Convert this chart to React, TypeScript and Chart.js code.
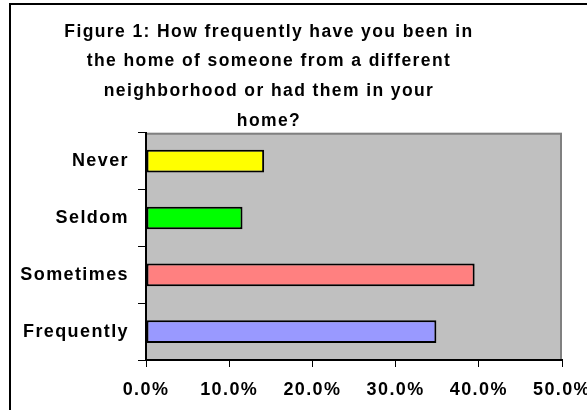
import React, { useEffect, useRef } from "react";
import { Chart, registerables } from "chart.js";

Chart.register(...registerables);

const categories = ["Never", "Seldom", "Sometimes", "Frequently"];
const percentValues = [14.2, 11.6, 39.5, 34.9];
const barColors = ["#FFFF00", "#00FF00", "#FF8080", "#9999FF"];
const titleLines = [
  "Figure 1: How frequently have you been in",
  "the home of someone from a different",
  "neighborhood or had them in your",
  "home?",
];
const axisMin = 0;
const axisMax = 50;
const axisStep = 10;

const FONT = "'Liberation Sans', Arial, sans-serif";

const spacingPlugin = {
  id: "spacing",
  beforeUpdate(chart: any) {
    chart.ctx.letterSpacing = "1.4px";
  },
  beforeDraw(chart: any) {
    chart.ctx.letterSpacing = "1.4px";
  },
};

const framePlugin = {
  id: "frame",
  beforeDraw(chart: any) {
    const { ctx, chartArea, width, height } = chart;
    ctx.save();
    ctx.fillStyle = "#FFFFFF";
    ctx.fillRect(0, 0, width, height);
    ctx.strokeStyle = "#000000";
    ctx.lineWidth = 2;
    ctx.beginPath();
    ctx.moveTo(10, height + 5);
    ctx.lineTo(10, 4);
    ctx.lineTo(width + 5, 4);
    ctx.stroke();
    ctx.fillStyle = "#C0C0C0";
    ctx.fillRect(
      chartArea.left,
      chartArea.top,
      chartArea.right - chartArea.left,
      chartArea.bottom - chartArea.top
    );
    ctx.strokeStyle = "#808080";
    ctx.lineWidth = 2;
    ctx.beginPath();
    ctx.moveTo(chartArea.left, chartArea.top + 1);
    ctx.lineTo(chartArea.right - 1, chartArea.top + 1);
    ctx.lineTo(chartArea.right - 1, chartArea.bottom);
    ctx.stroke();
    ctx.restore();
  },
};

export default function App() {
  const canvasRef = useRef<HTMLCanvasElement | null>(null);

  useEffect(() => {
    if (!canvasRef.current) return;
    const chart = new Chart(canvasRef.current, {
      type: "bar",
      data: {
        labels: categories,
        datasets: [
          {
            data: percentValues,
            backgroundColor: barColors,
            borderColor: "#000000",
            borderWidth: 2,
            borderSkipped: false,
            barPercentage: 0.4,
            categoryPercentage: 1,
          },
        ],
      },
      plugins: [spacingPlugin, framePlugin],
      options: {
        indexAxis: "y",
        animation: false,
        responsive: false,
        events: [],
        layout: { padding: { left: -24, right: 25, top: 0, bottom: 0 } },
        plugins: {
          legend: { display: false },
          tooltip: { enabled: false },
          title: {
            display: true,
            text: titleLines,
            color: "#000000",
            font: { family: FONT, size: 17.5, weight: "bold", lineHeight: "29.7px" },
            padding: { top: 17, bottom: -3 },
          },
        },
        scales: {
          x: {
            min: axisMin,
            max: axisMax,
            border: { display: true, color: "#000000", width: 2 },
            grid: {
              display: true,
              drawOnChartArea: false,
              drawTicks: true,
              tickLength: 7,
              color: "#000000",
              lineWidth: 1,
            },
            ticks: {
              stepSize: axisStep,
              color: "#000000",
              padding: 12,
              maxRotation: 0,
              autoSkip: false,
              font: { family: FONT, size: 18, weight: "bold" },
              callback: (v: any) => Number(v).toFixed(1) + "%",
            },
            afterFit: (s: any) => {
              s.height = 50;
              s.paddingLeft = 0;
              s.paddingRight = 0;
            },
          },
          y: {
            border: { display: true, color: "#000000", width: 2 },
            grid: {
              display: true,
              drawOnChartArea: false,
              drawTicks: true,
              tickLength: 8,
              color: "#000000",
              lineWidth: 1,
              offset: true,
            },
            ticks: {
              color: "#000000",
              padding: 9,
              font: { family: FONT, size: 18, weight: "bold" },
            },
            afterFit: (s: any) => {
              s.width = 170;
              s.paddingTop = 0;
              s.paddingBottom = 0;
            },
          },
        },
      },
    });
    return () => chart.destroy();
  }, []);

  return (
    <div style={{ position: "absolute", left: 0, top: 0, width: 587, height: 410 }}>
      <canvas ref={canvasRef} width={587} height={410} style={{ display: "block" }} />
    </div>
  );
}
